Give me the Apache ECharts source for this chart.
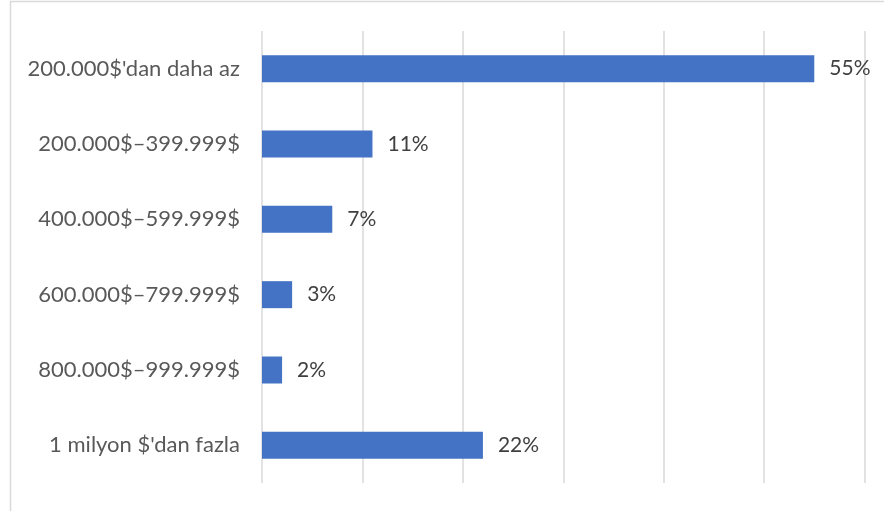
<!DOCTYPE html>
<html><head><meta charset="utf-8">
<script src="https://cdn.jsdelivr.net/npm/echarts@6/dist/echarts.min.js"></script>
<style>html,body{margin:0;padding:0;background:#fff}#c{width:884px;height:511px}</style>
</head><body><div id="c"></div>
<script>
const categories = ["200.000$'dan daha az", "200.000$–399.999$", "400.000$–599.999$", "600.000$–799.999$", "800.000$–999.999$", "1 milyon $'dan fazla"];
const values = [55, 11, 7, 3, 2, 22];

const chart = echarts.init(document.getElementById('c'));
chart.setOption({
  animation: false,
  backgroundColor: '#fff',
  graphic: [{
    type: 'rect', shape: {x: 10.5, y: 1.5, width: 880, height: 520},
    style: {fill: 'none', stroke: '#d9d9d9', lineWidth: 1.5}, silent: true
  }],
  grid: {left: 262, right: 19.5, top: 31, bottom: 28, containLabel: false},
  xAxis: {
    type: 'value', min: 0, max: 60, interval: 10,
    axisLabel: {show: false}, axisLine: {show: false}, axisTick: {show: false},
    splitLine: {show: true, lineStyle: {color: '#d9d9d9', width: 1.5}}
  },
  yAxis: {
    type: 'category', inverse: true, data: categories,
    axisLine: {show: false}, axisTick: {show: false},
    axisLabel: {color: '#595959', fontSize: 22, fontFamily: 'Lato', margin: 22}
  },
  series: [{
    type: 'bar', data: values, barWidth: 27,
    itemStyle: {color: '#4472c4'},
    label: {show: true, position: 'right', distance: 15, formatter: '{c}%',
      color: '#404040', fontSize: 21, fontFamily: 'Lato'}
  }]
});
</script></body></html>
